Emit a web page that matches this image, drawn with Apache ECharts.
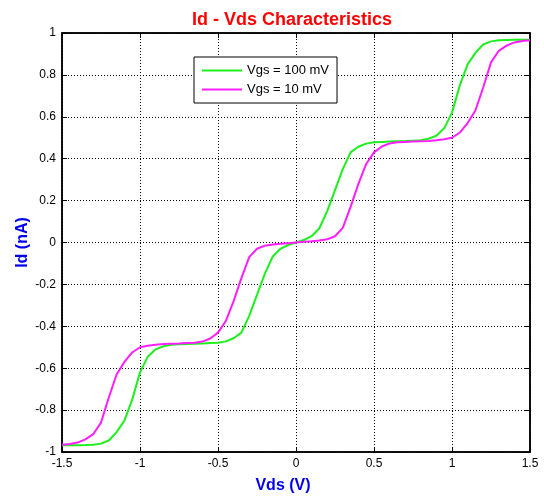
<!DOCTYPE html>
<html>
<head>
<meta charset="utf-8">
<script src="https://cdn.jsdelivr.net/npm/echarts@6/dist/echarts.min.js"></script>
<style>
  html, body { margin: 0; padding: 0; background: #fff; }
  #chart { width: 544px; height: 497px; }
</style>
</head>
<body>
<div id="chart"></div>
<script>
// Vds sweep, step 0.05 V
const vds = [
  -1.5, -1.45, -1.4, -1.35, -1.3, -1.25, -1.2, -1.15, -1.1, -1.05,
  -1.0, -0.95, -0.9, -0.85, -0.8, -0.75, -0.7, -0.65, -0.6, -0.55,
  -0.5, -0.45, -0.4, -0.35, -0.3, -0.25, -0.2, -0.15, -0.1, -0.05,
  0,
  0.05, 0.1, 0.15, 0.2, 0.25, 0.3, 0.35, 0.4, 0.45, 0.5,
  0.55, 0.6, 0.65, 0.7, 0.75, 0.8, 0.85, 0.9, 0.95, 1.0,
  1.05, 1.1, 1.15, 1.2, 1.25, 1.3, 1.35, 1.4, 1.45, 1.5
]

// Vgs = 100 mV (green)
const id100 = [
  -0.968, -0.968, -0.968, -0.967, -0.965, -0.96, -0.945, -0.905, -0.85, -0.75,
  -0.62, -0.545, -0.51, -0.495, -0.488, -0.486, -0.484, -0.483, -0.482, -0.48,
  -0.478, -0.472, -0.457, -0.43, -0.35, -0.25, -0.15, -0.068, -0.03, -0.012,
  0,
  0.012, 0.03, 0.068, 0.15, 0.25, 0.35, 0.43, 0.457, 0.472, 0.478,
  0.48, 0.482, 0.483, 0.484, 0.486, 0.488, 0.495, 0.51, 0.545, 0.62,
  0.75, 0.85, 0.905, 0.945, 0.96, 0.965, 0.967, 0.968, 0.968, 0.968
]

// Vgs = 10 mV (magenta)
const id10 = [
  -0.965, -0.962, -0.955, -0.94, -0.915, -0.86, -0.74, -0.63, -0.57, -0.525,
  -0.5, -0.493, -0.488, -0.484, -0.483, -0.482, -0.48, -0.478, -0.473, -0.458,
  -0.43, -0.375, -0.28, -0.17, -0.07, -0.03, -0.015, -0.01, -0.006, -0.003,
  0,
  0.003, 0.006, 0.01, 0.015, 0.03, 0.07, 0.17, 0.28, 0.375, 0.43,
  0.458, 0.473, 0.478, 0.48, 0.482, 0.483, 0.484, 0.488, 0.493, 0.5,
  0.525, 0.57, 0.63, 0.74, 0.86, 0.915, 0.94, 0.955, 0.962, 0.965
]

const seriesNames = ['Vgs = 100 mV', 'Vgs = 10 mV']
const seriesColors = ['#1ef01e', '#ff1eff']

const font = 'Liberation Sans, Arial, sans-serif'

const chart = echarts.init(document.getElementById('chart'))

const tickLabel = { color: '#000', fontSize: 12, fontFamily: font }
const gridDots = { show: true, lineStyle: { color: '#000', type: [1, 2], width: 1 } }
const frameLine = { show: true, onZero: false, lineStyle: { color: '#000', width: 1.5 } }
const inTicks = { show: true, inside: true, length: 5, lineStyle: { color: '#000' } }

chart.setOption({
  animation: false,
  backgroundColor: '#fff',
  title: {
    text: 'Id - Vds Characteristics',
    left: 187,
    top: 6,
    textStyle: { color: '#ff0000', fontSize: 18, fontWeight: 'bold', fontFamily: font }
  },
  legend: {
    orient: 'vertical',
    left: 194,
    top: 57,
    data: seriesNames,
    icon: 'rect',
    itemWidth: 40,
    itemHeight: 2,
    itemGap: 6,
    padding: [7, 8, 7, 8],
    borderColor: '#000',
    borderWidth: 1,
    backgroundColor: '#fff',
    textStyle: { color: '#000', fontSize: 13, fontFamily: font }
  },
  grid: {
    left: 62, right: 14, top: 33, bottom: 45,
    outerBoundsMode: 'none',
    show: true, borderColor: '#000', borderWidth: 1.5, backgroundColor: '#fff'
  },
  xAxis: [
    {
      type: 'value', min: -1.5, max: 1.5, interval: 0.5,
      name: 'Vds (V)', nameLocation: 'middle', nameGap: 26, nameMoveOverlap: false,
      nameTextStyle: { color: '#0000ee', fontSize: 16, fontWeight: 'bold', fontFamily: font, padding: [0, 26, 0, 0] },
      axisLine: frameLine,
      axisTick: inTicks,
      axisLabel: Object.assign({ margin: 6 }, tickLabel),
      splitLine: gridDots
    },
    {
      type: 'value', min: -1.5, max: 1.5, interval: 0.5, position: 'top',
      axisLine: frameLine,
      axisTick: inTicks,
      axisLabel: { show: false },
      splitLine: { show: false }
    }
  ],
  yAxis: [
    {
      type: 'value', min: -1, max: 1, interval: 0.2,
      name: 'Id (nA)', nameLocation: 'middle', nameGap: 31, nameMoveOverlap: false,
      nameTextStyle: { color: '#0000ee', fontSize: 16, fontWeight: 'bold', fontFamily: font },
      axisLine: frameLine,
      axisTick: inTicks,
      axisLabel: Object.assign({ margin: 6 }, tickLabel),
      splitLine: gridDots
    },
    {
      type: 'value', min: -1, max: 1, interval: 0.2, position: 'right',
      axisLine: frameLine,
      axisTick: inTicks,
      axisLabel: { show: false },
      splitLine: { show: false }
    }
  ],
  series: [
    {
      name: seriesNames[0], type: 'line', symbol: 'none',
      color: seriesColors[0],
      lineStyle: { width: 2, color: seriesColors[0] },
      data: vds.map((v, i) => [v, id100[i]])
    },
    {
      name: seriesNames[1], type: 'line', symbol: 'none',
      color: seriesColors[1],
      lineStyle: { width: 2, color: seriesColors[1] },
      data: vds.map((v, i) => [v, id10[i]])
    }
  ]
})
</script>
</body>
</html>
